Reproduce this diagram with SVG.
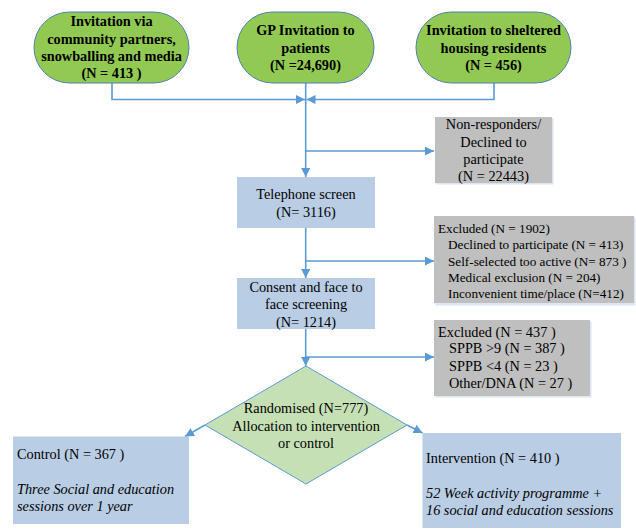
<svg xmlns="http://www.w3.org/2000/svg" width="636" height="530" viewBox="0 0 636 530" font-family="'Liberation Serif', 'Times New Roman', Times, serif">
<defs>
<style>
text{font-family:'Liberation Serif','Times New Roman',Times,serif}
.t{font-size:14.3px;fill:#000}
.s{font-size:13.2px}
.b{font-weight:bold}
.c{text-anchor:middle}
.i{font-style:italic}
.oval{fill:#92C953;stroke:#4F7FB5;stroke-width:1}
.blue{fill:#B9CDE5}
.gray{fill:#BFBFBF}
.sh{fill:#DCE6F2}
.con{fill:none;stroke:#5B9BD5;stroke-width:1.6}
</style>
<marker id="ah" markerUnits="userSpaceOnUse" markerWidth="9" markerHeight="9" refX="9" refY="4.5" orient="auto">
<path d="M0,0 L9,4.5 L0,9 z" fill="#5B9BD5"/>
</marker>
</defs>
<rect width="636" height="530" fill="#fff"/>

<g id="connectors">
<path class="con" d="M112 83 V99.5 H305" marker-end="url(#ah)"/>
<path class="con" d="M494 83 V99.5 H306.5" marker-end="url(#ah)"/>
<path class="con" d="M305.7 83 V177" marker-end="url(#ah)"/>
<path class="con" d="M305.7 151 H434" marker-end="url(#ah)"/>
<path class="con" d="M305.7 228 V278" marker-end="url(#ah)"/>
<path class="con" d="M305.7 261 H434" marker-end="url(#ah)"/>
<path class="con" d="M305.7 329 V366" marker-end="url(#ah)"/>
<path class="con" d="M305.7 357 H434" marker-end="url(#ah)"/>
<path class="con" d="M205 425 L185 436.5" marker-end="url(#ah)"/>
<path class="con" d="M407 425 L422.5 433" marker-end="url(#ah)"/>
</g>

<g id="n1">
<rect class="oval" x="34" y="12" width="155" height="71" rx="35.5"/>
<text class="t b c" x="111.5" y="26">Invitation via</text>
<text class="t b c" x="111.5" y="43.5">community partners,</text>
<text class="t b c" x="111.5" y="61">snowballing and media</text>
<text class="t b c" x="111.5" y="78">(N = 413 )</text>
</g>
<g id="n2">
<rect class="oval" x="237" y="12" width="137" height="71" rx="35.5"/>
<text class="t b c" x="305.5" y="35">GP Invitation to</text>
<text class="t b c" x="305.5" y="52.5">patients</text>
<text class="t b c" x="305.5" y="70">(N =24,690)</text>
</g>
<g id="n3">
<rect class="oval" x="416" y="12" width="155" height="71" rx="35.5"/>
<text class="t b c" x="493.5" y="35">Invitation to sheltered</text>
<text class="t b c" x="493.5" y="52.5">housing residents</text>
<text class="t b c" x="493.5" y="70">(N = 456)</text>
</g>

<g id="n4">
<rect class="sh" x="436.5" y="118.5" width="117" height="66"/>
<rect class="gray" x="435" y="117" width="117" height="66"/>
<text class="t c" x="493.5" y="129">Non-responders/</text>
<text class="t c" x="493.5" y="146.5">Declined to</text>
<text class="t c" x="493.5" y="164">participate</text>
<text class="t c" x="493.5" y="181">(N = 22443)</text>
</g>

<g id="n5">
<rect class="blue" x="237" y="177" width="138" height="51"/>
<text class="t c" x="306" y="199">Telephone screen</text>
<text class="t c" x="306" y="216.5">(N= 3116)</text>
</g>

<g id="n6">
<rect class="sh" x="435.5" y="217.5" width="200" height="88"/>
<rect class="gray" x="434" y="216" width="200" height="87"/>
<text class="t s" x="438" y="233">Excluded (N = 1902)</text>
<text class="t s" x="448" y="249">Declined to participate (N = 413)</text>
<text class="t s" x="448" y="265.5">Self-selected too active (N= 873 )</text>
<text class="t s" x="448" y="281.5">Medical exclusion (N = 204)</text>
<text class="t s" x="448" y="297.5">Inconvenient time/place (N=412)</text>
</g>

<g id="n7">
<rect class="blue" x="237" y="278" width="138" height="51"/>
<text class="t c" x="306" y="292">Consent and face to</text>
<text class="t c" x="306" y="309">face screening</text>
<text class="t c" x="306" y="326.5">(N= 1214)</text>
</g>

<g id="n8">
<rect class="sh" x="435.5" y="321.5" width="156" height="76"/>
<rect class="gray" x="434" y="320" width="156" height="76"/>
<text class="t" x="438" y="337">Excluded (N = 437 )</text>
<text class="t" x="449" y="353">SPPB &gt;9 (N = 387 )</text>
<text class="t" x="449" y="370.5">SPPB &lt;4 (N = 23 )</text>
<text class="t" x="449" y="388">Other/DNA (N = 27 )</text>
</g>

<g id="n9">
<polygon points="306,366 407,425 306,484 205,425" fill="#C5E0B4" stroke="#5B9BD5" stroke-width="1"/>
<text class="t c" x="306" y="413">Randomised (N=777)</text>
<text class="t c" x="306" y="430.5">Allocation to intervention</text>
<text class="t c" x="306" y="448">or control</text>
</g>

<g id="n10">
<rect class="blue" x="13" y="436.5" width="176" height="87.5"/>
<text class="t" x="17" y="459">Control (N = 367 )</text>
<text class="t i" x="17" y="494">Three Social and education</text>
<text class="t i" x="17" y="511">sessions over 1 year</text>
</g>

<g id="n11">
<rect class="blue" x="422.5" y="433" width="198.5" height="95"/>
<text class="t" x="426" y="463">Intervention (N = 410 )</text>
<text class="t i" x="426" y="498">52 Week activity programme +</text>
<text class="t i" x="426" y="515">16 social and education sessions</text>
</g>
</svg>
